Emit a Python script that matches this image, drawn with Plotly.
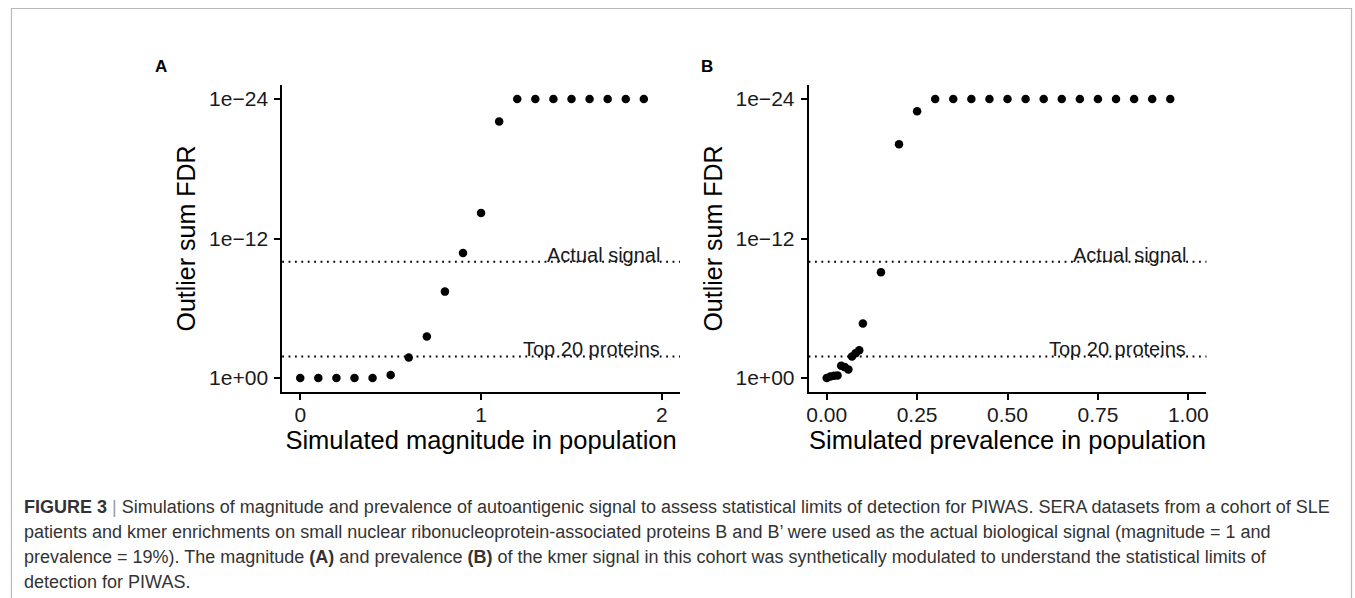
import numpy as np
import plotly.graph_objects as go

# ---------------- data ----------------
magnitude = [0.0, 0.1, 0.2, 0.3, 0.4, 0.5, 0.6, 0.7, 0.8, 0.9,
             1.0, 1.1, 1.2, 1.3, 1.4, 1.5, 1.6, 1.7, 1.8, 1.9]
magnitude_fdr = [1.0, 1.0, 1.0, 1.0, 1.0, 0.55, 1.7e-2, 2.7e-4, 3.7e-8, 1.8e-11,
                 6.3e-15, 8.7e-23, 1e-24, 1e-24, 1e-24, 1e-24, 1e-24, 1e-24, 1e-24, 1e-24]

prevalence = [0.00, 0.01, 0.02, 0.03, 0.04, 0.05, 0.06, 0.07, 0.08, 0.09, 0.10,
              0.15, 0.20, 0.25, 0.30, 0.35, 0.40, 0.45, 0.50, 0.55, 0.60,
              0.65, 0.70, 0.75, 0.80, 0.85, 0.90, 0.95]
prevalence_fdr = [1.0, 0.72, 0.63, 0.59, 0.087, 0.115, 0.18, 1.4e-2, 7.2e-3, 4.0e-3, 2.0e-5,
                  7.8e-10, 7.8e-21, 1.15e-23, 1e-24, 1e-24, 1e-24, 1e-24, 1e-24, 1e-24, 1e-24,
                  1e-24, 1e-24, 1e-24, 1e-24, 1e-24, 1e-24, 1e-24]

threshold_labels = ["Actual signal", "Top 20 proteins"]
threshold_fdr = [1e-10, 1.4e-2]

y_tickvals = [1, 1e-12, 1e-24]
y_ticktext = ["1e+00", "1e\u221212", "1e\u221224"]
mag_ticks = [0, 1, 2]
prev_ticks = [0.0, 0.25, 0.5, 0.75, 1.0]
prev_ticktext = ["0.00", "0.25", "0.50", "0.75", "1.00"]

x_titles = ["Simulated magnitude in population", "Simulated prevalence in population"]
y_title = "Outlier sum FDR"
panel_labels = ["A", "B"]

caption_lines = [
    "<b>FIGURE 3</b> <span style='color:#9a9a9a'>|</span> Simulations of magnitude and prevalence of autoantigenic signal to assess statistical limits of detection for PIWAS. SERA datasets from a cohort of SLE",
    "patients and kmer enrichments on small nuclear ribonucleoprotein-associated proteins B and B\u2019 were used as the actual biological signal (magnitude = 1 and",
    "prevalence = 19%). The magnitude <b>(A)</b> and prevalence <b>(B)</b> of the kmer signal in this cohort was synthetically modulated to understand the statistical limits of",
    "detection for PIWAS.",
]

# ---------------- layout geometry (pixels) ----------------
W, H = 1355, 598
FONT = "Liberation Sans, Arial, Helvetica, sans-serif"


def fx(p):
    return p / W


def fy(p):
    return 1 - p / H


plot_top, plot_bottom = 85, 392
panels = [
    dict(left=281, right=680, xr=[-0.1, 2.1]),
    dict(left=809, right=1208, xr=[-0.05, 1.05]),
]

fig = go.Figure()

fig.add_trace(go.Scatter(x=magnitude, y=magnitude_fdr, mode="markers",
                         marker=dict(size=8.5, color="black"),
                         xaxis="x", yaxis="y", showlegend=False))
fig.add_trace(go.Scatter(x=prevalence, y=prevalence_fdr, mode="markers",
                         marker=dict(size=8.5, color="black"),
                         xaxis="x2", yaxis="y2", showlegend=False))

axis_common = dict(showline=True, linecolor="black", linewidth=1.8,
                   ticks="outside", ticklen=6, tickwidth=1.8, tickcolor="black",
                   showgrid=False, zeroline=False,
                   tickfont=dict(family=FONT, size=21, color="#1a1a1a"))

yaxis_common = dict(axis_common, type="log", range=[1.2, -25.2],
                    tickmode="array", tickvals=y_tickvals, ticktext=y_ticktext,
                    domain=[fy(plot_bottom), fy(plot_top)],
                    title=dict(text=y_title, font=dict(family=FONT, size=25, color="black"),
                               standoff=6),
                    ticklabelstandoff=2)

xtitle_font = dict(family=FONT, size=25.5, color="black")

fig.update_layout(
    width=W, height=H,
    margin=dict(l=0, r=0, t=0, b=0),
    paper_bgcolor="white", plot_bgcolor="white",
    showlegend=False,
    xaxis=dict(axis_common, domain=[fx(panels[0]["left"]), fx(panels[0]["right"])],
               range=panels[0]["xr"], anchor="y",
               tickmode="array", tickvals=mag_ticks, ticktext=[str(t) for t in mag_ticks],
               ticklabelstandoff=-3,
               title=dict(text=x_titles[0], font=xtitle_font, standoff=4)),
    yaxis=dict(yaxis_common, anchor="x"),
    xaxis2=dict(axis_common, domain=[fx(panels[1]["left"]), fx(panels[1]["right"])],
                range=panels[1]["xr"], anchor="y2",
                tickmode="array", tickvals=prev_ticks, ticktext=prev_ticktext,
                ticklabelstandoff=-3,
                title=dict(text=x_titles[1], font=xtitle_font, standoff=4)),
    yaxis2=dict(yaxis_common, anchor="x2"),
)

shapes = []
annotations = []
label_x = [mag_ticks[-1], prev_ticks[-1]]
for i, (xr, yr) in enumerate([("x", "y"), ("x2", "y2")]):
    for lab, v in zip(threshold_labels, threshold_fdr):
        shapes.append(dict(type="line", xref=f"{xr} domain", yref=yr,
                           x0=0, x1=1, y0=v, y1=v,
                           line=dict(color="black", width=1.8, dash="1.8px,4.6px")))
        annotations.append(dict(xref=xr, yref=yr, x=label_x[i], y=np.log10(v),
                                text=lab, showarrow=False, xanchor="right",
                                yanchor="middle", yshift=7,
                                font=dict(family=FONT, size=20, color="#1a1a1a")))

# panel letters
for lab, px in zip(panel_labels, [159, 707]):
    annotations.append(dict(xref="paper", yref="paper", x=fx(px), y=fy(66),
                            text=f"<b>{lab}</b>", showarrow=False,
                            xanchor="center", yanchor="middle",
                            font=dict(family=FONT, size=17, color="black")))

# caption
for k, line in enumerate(caption_lines):
    annotations.append(dict(xref="paper", yref="paper", x=fx(20.5), y=fy(507 + 25 * k),
                            text=line, showarrow=False, xanchor="left", yanchor="middle",
                            font=dict(family=FONT, size=18, color="#333333")))

# frame around figure
shapes.append(dict(type="rect", xref="paper", yref="paper",
                   x0=fx(9.5), x1=fx(1353.5), y0=-0.1, y1=fy(8.5),
                   line=dict(color="#b8b8b8", width=1.2), fillcolor="rgba(0,0,0,0)",
                   layer="below"))

fig.update_layout(shapes=shapes, annotations=annotations)

fig.write_html("out.html")
